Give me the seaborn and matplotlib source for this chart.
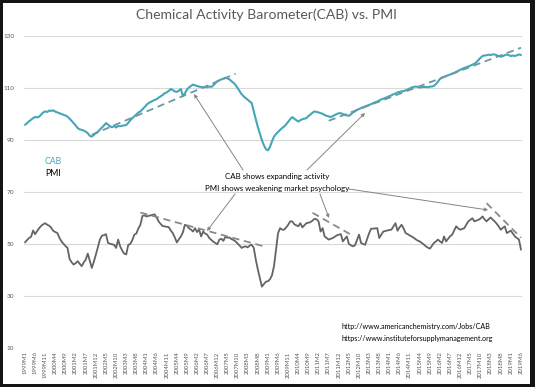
import matplotlib
matplotlib.use("Agg")
import matplotlib.pyplot as plt
import seaborn as sns
import pandas as pd
from matplotlib.patches import Rectangle

# ---------------- data ----------------
months = [f"{1999 + i // 12}M{i % 12 + 1}" for i in range(246)]  # 1999M1 .. 2019M6

cab = [
    95.8, 96.5, 97.2, 97.8, 98.4, 98.9, 98.7, 99.0, 99.8, 100.6, 101.0, 100.8,   # 1999
    101.3, 101.2, 101.4, 100.9, 100.6, 100.3, 100.0, 99.7, 99.4, 99.0, 98.2, 97.4,  # 2000
    96.5, 95.6, 94.6, 94.1, 93.9, 93.6, 93.2, 92.6, 91.6, 91.3, 92.0, 92.6,  # 2001
    93.2, 94.0, 94.8, 95.6, 96.5, 95.9, 95.3, 94.9, 95.4, 94.8, 95.4, 95.3,  # 2002
    95.5, 95.6, 95.8, 96.6, 97.6, 98.4, 99.1, 99.8, 100.6, 101.0, 101.8, 102.6,  # 2003
    103.5, 104.2, 104.6, 105.0, 105.4, 105.7, 106.3, 106.8, 107.3, 108.0, 108.3, 108.9,  # 2004
    109.6, 109.2, 108.7, 108.5, 109.0, 109.6, 106.8, 108.0, 109.4, 110.2, 110.8, 111.3,  # 2005
    111.0, 110.8, 110.5, 110.4, 110.2, 110.4, 110.3, 110.6, 110.4, 111.0, 111.8, 112.6,  # 2006
    113.0, 113.3, 113.6, 113.9, 113.7, 113.3, 112.6, 112.0, 111.2, 110.0, 108.8, 107.6,  # 2007
    106.8, 106.1, 105.5, 104.8, 104.2, 101.0, 98.0, 95.0, 92.5, 90.0, 88.0, 86.5,  # 2008
    86.0, 87.3, 89.5, 91.3, 92.3, 93.1, 93.9, 94.6, 95.2, 96.0, 97.0, 98.0,  # 2009
    98.8, 98.2, 97.6, 97.1, 97.6, 98.0, 98.2, 98.4, 99.2, 99.8, 100.5, 101.0,  # 2010
    100.8, 100.6, 100.3, 100.1, 99.6, 99.3, 99.1, 98.8, 99.2, 99.6, 100.0, 100.3,  # 2011
    100.3, 100.0, 99.6, 99.5, 99.3, 99.9, 100.6, 101.0, 101.6, 101.9, 102.3, 102.6,  # 2012
    102.9, 103.2, 103.5, 103.8, 104.2, 104.5, 104.8, 105.2, 105.6, 105.9, 106.2, 106.5,  # 2013
    106.9, 107.2, 107.6, 107.9, 108.3, 108.5, 108.7, 108.8, 109.1, 109.4, 109.8, 110.2,  # 2014
    110.4, 110.6, 110.4, 110.2, 110.3, 110.4, 110.4, 110.3, 110.5, 110.6, 110.8, 111.5,  # 2015
    112.5, 113.5, 114.0, 114.3, 114.6, 114.9, 115.2, 115.5, 115.8, 116.2, 116.6, 117.0,  # 2016
    117.4, 117.7, 118.0, 118.3, 118.6, 119.0, 119.3, 119.9, 120.8, 121.6, 122.3, 122.5,  # 2017
    122.6, 122.8, 122.7, 122.9, 122.9, 122.6, 122.3, 122.0, 122.3, 122.6, 122.9, 122.6,  # 2018
    122.3, 122.5, 122.3, 122.6, 122.9, 122.7,  # 2019
]

pmi = [
    50.6, 51.5, 52.3, 52.8, 55.2, 53.8, 55.0, 56.1, 57.0, 57.6, 58.0, 57.4,  # 1999
    57.0, 56.2, 55.0, 54.6, 54.2, 52.4, 51.0, 50.1, 49.2, 48.5, 44.3, 43.0,  # 2000
    42.1, 42.6, 43.4, 42.4, 41.5, 42.9, 44.0, 46.3, 43.5, 40.8, 43.2, 45.9,  # 2001
    48.8, 51.7, 53.2, 53.4, 53.8, 50.4, 50.1, 49.9, 49.7, 48.5, 51.7, 49.1,  # 2002
    47.5, 46.3, 46.0, 49.7, 50.0, 51.5, 53.6, 54.0, 56.0, 57.4, 60.8, 61.0,  # 2003
    60.6, 60.8, 61.0, 61.2, 61.4, 60.2, 58.7, 57.7, 56.9, 56.8, 56.6, 56.5,  # 2004
    55.2, 54.2, 52.5, 50.6, 51.8, 52.9, 54.5, 57.4, 57.0, 56.1, 55.5, 54.8,  # 2005
    56.1, 54.6, 55.6, 52.9, 54.8, 54.0, 53.6, 52.3, 51.6, 50.9, 50.4, 49.9,  # 2006
    51.7, 52.0, 51.2, 52.9, 52.4, 52.5, 51.9, 51.5, 51.0, 50.2, 49.4, 48.5,  # 2007
    48.9, 49.1, 48.7, 49.4, 49.7, 48.5, 44.0, 40.2, 37.0, 33.6, 34.6, 35.5,  # 2008
    35.7, 36.4, 38.0, 41.5, 48.0, 54.2, 56.1, 55.5, 55.5, 56.4, 57.4, 58.7,  # 2009
    58.7, 57.6, 57.2, 56.8, 58.0, 56.4, 57.2, 58.0, 58.2, 58.4, 59.0, 59.7,  # 2010
    59.5, 58.7, 54.8, 56.1, 52.9, 52.3, 51.7, 52.0, 52.3, 52.8, 53.3, 53.6,  # 2011
    53.8, 51.0, 52.0, 52.9, 50.0, 49.5, 49.1, 49.5, 51.5, 53.6, 50.4, 50.0,  # 2012
    49.7, 52.0, 54.2, 55.9, 55.9, 56.0, 56.1, 52.3, 53.6, 54.8, 55.0, 55.2,  # 2013
    55.4, 55.5, 56.8, 58.0, 55.1, 56.4, 57.4, 56.0, 54.2, 53.8, 53.3, 52.9,  # 2014
    52.4, 51.8, 51.3, 51.0, 50.4, 49.8, 49.1, 48.6, 48.2, 49.3, 50.4, 51.0,  # 2015
    51.7, 51.0, 50.4, 52.9, 51.0, 52.0, 53.0, 53.6, 55.2, 56.8, 56.0, 55.5,  # 2016
    55.8, 56.1, 57.5, 58.7, 59.3, 59.9, 58.7, 59.0, 59.3, 59.8, 60.6, 59.5,  # 2017
    58.7, 59.5, 60.2, 59.4, 58.7, 57.8, 56.8, 55.5, 56.2, 56.8, 54.2, 54.7,  # 2018
    55.1, 54.0, 52.9, 52.3, 51.7, 47.8,  # 2019
]

# dashed trend segments (start/end month, value)
cab_trend_a_months = ["2001M10", "2007M9"]
cab_trend_a_values = [92.0, 115.5]
cab_trend_b_months = ["2011M7", "2019M6"]
cab_trend_b_values = [97.4, 125.5]
pmi_trend_a_months = ["2003M10", "2008M11"]
pmi_trend_a_values = [62.1, 49.1]
pmi_trend_b_months = ["2010M11", "2012M6"]
pmi_trend_b_values = [62.0, 53.6]
pmi_trend_c_months = ["2018M1", "2019M6"]
pmi_trend_c_values = [65.7, 52.4]

y_ticks = [10, 30, 50, 70, 90, 110, 130]
x_tick_step = 5

title = "Chemical Activity Barometer(CAB) vs. PMI"
note_cab = "CAB shows expanding activity"
note_pmi = "PMI shows weakening market psychology"
url1 = "http://www.americanchemistry.com/Jobs/CAB"
url2 = "https://www.instituteforsupplymanagement.org"

# ---------------- style ----------------
CAB_COLOR = "#45a6b8"
PMI_COLOR = "#646464"
CAB_DASH = "#6b98a2"
PMI_DASH = "#8a8a8a"
TXT = "#595959"

sns.set_theme(style="white")
plt.rcParams["font.family"] = ["Lato", "DejaVu Sans"]

W, H = 535, 387
fig = plt.figure(figsize=(W / 100, H / 100), dpi=100, facecolor="#141414")
fig.patches.append(Rectangle((3 / W, 3 / H), (530 - 3) / W, (384 - 3) / H,
                             transform=fig.transFigure, facecolor="white",
                             edgecolor="none", zorder=-5))
ax = fig.add_axes([24 / W, 1 - 348 / H, (522 - 24) / W, (348 - 36) / H])
ax.set_facecolor("none")

df = pd.DataFrame({"m": range(len(months)), "CAB": cab, "PMI": pmi})
sns.lineplot(data=df, x="m", y="PMI", ax=ax, color=PMI_COLOR, linewidth=1.3, zorder=3)
sns.lineplot(data=df, x="m", y="CAB", ax=ax, color=CAB_COLOR, linewidth=1.5, zorder=3)

def trend(ms, vs, color):
    d = pd.DataFrame({"m": [months.index(s) for s in ms], "v": vs})
    sns.lineplot(data=d, x="m", y="v", ax=ax, color=color, linewidth=1.3,
                 dashes=False, linestyle=(0, (4, 2.6)), zorder=4)

trend(cab_trend_a_months, cab_trend_a_values, CAB_DASH)
trend(cab_trend_b_months, cab_trend_b_values, CAB_DASH)
trend(pmi_trend_a_months, pmi_trend_a_values, PMI_DASH)
trend(pmi_trend_b_months, pmi_trend_b_values, PMI_DASH)
trend(pmi_trend_c_months, pmi_trend_c_values, PMI_DASH)

ax.set_xlim(-0.5, len(months) - 0.5)
ax.set_ylim(10, 130)
ax.set_yticks(y_ticks)
ax.set_xticks(range(0, len(months), x_tick_step))
ax.set_xticklabels(months[::x_tick_step], rotation=90, fontsize=4.3, color=TXT)
ax.tick_params(axis="y", length=0, labelsize=4.6, labelcolor=TXT, pad=7)
ax.tick_params(axis="x", length=0, pad=2.5)
ax.set_xlabel("")
ax.set_ylabel("")
ax.yaxis.grid(True, color="#d9d9d9", linewidth=0.8)
ax.xaxis.grid(False)
for s in ax.spines.values():
    s.set_visible(False)

def fp(x, y):
    return (x / W, 1 - y / H)

fig.text(*fp(266, 15), title, ha="center", va="center", fontsize=10.1, color=TXT)
fig.text(*fp(45, 161.5), "CAB", ha="left", va="center", fontsize=6.3, color=CAB_COLOR)
fig.text(*fp(45, 173.5), "PMI", ha="left", va="center", fontsize=6.3, color="black")
fig.text(*fp(277.5, 176), note_cab, ha="center", va="center", fontsize=5.7, color="black")
fig.text(*fp(277.5, 188), note_pmi, ha="center", va="center", fontsize=5.7, color="black")
fig.text(*fp(341, 326.5), url1, ha="left", va="center", fontsize=5.1, color="black")
fig.text(*fp(341, 338.5), url2, ha="left", va="center", fontsize=5.1, color="black")

arrows = [((243, 170), (194, 94)), ((307, 170), (365, 113)),
          ((235, 194), (207, 231)), ((320, 194), (329, 218)),
          ((349, 189), (488, 210))]
for (tx, ty), (hx, hy) in arrows:
    ax.annotate("", xy=(hx, H - hy), xycoords="figure pixels",
                xytext=(tx, H - ty), textcoords="figure pixels",
                arrowprops=dict(arrowstyle="-|>", color="#858585", lw=0.7,
                                mutation_scale=5, shrinkA=0, shrinkB=0),
                annotation_clip=False)

fig.savefig("out.png", dpi=100, facecolor=fig.get_facecolor())
